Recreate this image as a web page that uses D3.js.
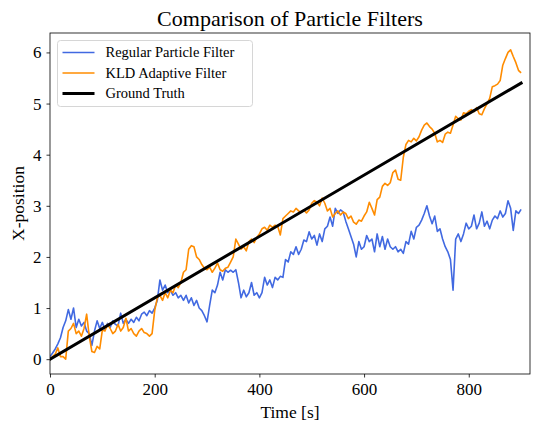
<!DOCTYPE html>
<html>
<head>
<meta charset="utf-8">
<script src="https://cdn.jsdelivr.net/npm/d3@7"></script>
<style>
  body { margin: 0; background: #fff; }
  text { font-family: "Liberation Serif", "DejaVu Serif", serif; fill: #000; }
</style>
</head>
<body>
<svg id="svg"></svg>
<script>
// time axis in seconds, one sample every 5 s
const timeStep = 5;
const xTicks = [0, 200, 400, 600, 800];
const yTicks = [0, 1, 2, 3, 4, 5, 6];
const seriesNames = ["Regular Particle Filter", "KLD Adaptive Filter", "Ground Truth"];

// Regular particle filter estimate
const regularValues = [
  0.05, 0.12, 0.2, 0.3, 0.42, 0.62, 0.75, 0.97, 0.78, 1.0,
  0.62, 0.78, 0.65, 0.72, 0.55, 0.5, 0.27, 0.55, 0.75, 0.6,
  0.72, 0.58, 0.7, 0.62, 0.75, 0.68, 0.65, 0.9, 0.7, 0.78,
  0.7, 0.78, 0.72, 0.82, 0.75, 0.88, 0.92, 0.85, 0.95, 0.9,
  1.0, 1.15, 1.55, 1.35, 1.45, 1.3, 1.35, 1.25, 1.3, 1.2,
  1.25, 1.15, 1.25, 1.1, 1.2, 1.05, 1.15, 1.0, 0.95, 0.85,
  0.73, 1.05, 1.35, 1.3, 1.45, 1.7, 1.55, 1.75, 1.7, 1.74,
  1.7, 1.75, 1.5, 1.2, 1.35, 1.22, 1.3, 1.5, 1.25, 1.3,
  1.2, 1.3, 1.6, 1.45, 1.55, 1.4, 1.6, 1.55, 1.62, 1.6,
  1.95, 1.9, 2.1, 2.05, 2.2, 2.05, 2.15, 2.33, 2.3, 2.49,
  2.35, 2.42, 2.23, 2.45, 2.3, 2.55, 2.6, 2.78, 2.6, 2.95,
  2.85, 2.92, 2.88, 2.7, 2.55, 2.4, 2.25, 2.0, 2.3, 2.15,
  2.2, 2.42, 2.3, 2.35, 2.1, 2.45, 2.2, 2.4, 2.15, 2.35,
  2.2, 2.15, 2.2, 2.1, 2.15, 2.07, 2.3, 2.25, 2.5, 2.35,
  2.58, 2.62, 2.72, 2.85, 3.0, 2.8, 2.65, 2.8, 2.5, 2.55,
  2.35, 2.2, 2.1, 1.95, 1.35, 2.35, 2.45, 2.3, 2.45, 2.66,
  2.55, 2.6, 2.82, 2.55, 2.66, 2.88, 2.6, 2.7, 2.55, 2.72,
  2.8, 2.75, 2.9, 2.78, 2.85, 3.1, 2.95, 2.52, 2.9, 2.85,
  2.93
];

// KLD adaptive filter estimate
const kldValues = [
  0.0, 0.05, 0.1, 0.22, 0.05, 0.05, 0.0, 0.55, 0.6, 0.7,
  0.5, 0.55, 0.45, 0.6, 0.88, 0.45, 0.15, 0.13, 0.25, 0.2,
  0.57, 0.55, 0.68, 0.6, 0.5, 0.55, 0.68, 0.55, 0.62, 0.8,
  0.55, 0.6, 0.5, 0.45, 0.55, 0.6, 0.52, 0.5, 0.45, 0.5,
  0.95, 1.2, 1.25, 1.15, 1.3, 1.2, 1.35, 1.3, 1.45, 1.4,
  1.5, 1.7, 1.75, 2.15, 2.22, 2.2, 2.0, 1.95, 1.85, 1.78,
  1.75, 1.8, 1.7, 1.78, 1.88, 1.75, 1.72, 1.78, 1.8, 1.9,
  2.0, 2.35, 2.25, 2.15, 2.2, 2.12, 2.3, 2.35, 2.28, 2.38,
  2.45, 2.55, 2.58, 2.52, 2.62, 2.58, 2.62, 2.6, 2.43, 2.75,
  2.8, 2.85, 2.9, 2.88, 2.95, 2.9, 2.88, 2.92, 2.86, 2.92,
  3.05, 3.1, 3.07, 3.0, 3.15, 3.05, 2.9, 2.95, 2.78, 2.85,
  2.9, 2.82, 2.88, 2.85, 2.75, 2.8, 2.68, 2.64, 2.72, 2.7,
  2.8, 2.88, 3.07, 2.95, 2.82, 3.12, 3.17, 3.38, 3.44, 3.4,
  3.45, 3.65, 3.7, 3.52, 3.5, 3.95, 4.2, 4.28, 4.25, 4.32,
  4.27, 4.35, 4.48, 4.58, 4.62, 4.55, 4.5, 4.42, 4.25, 4.28,
  4.24, 4.4, 4.44, 4.42, 4.58, 4.75, 4.7, 4.68, 4.82, 4.8,
  4.85, 4.88, 4.84, 4.92, 4.8, 4.78, 4.9, 5.0, 5.1, 5.33,
  5.35, 5.38, 5.45, 5.75, 5.88, 6.0, 6.05, 5.92, 5.8, 5.65,
  5.6
];

// ground truth: straight line from start to end
const truthTimes = [0, 900];
const truthValues = [0, 5.4];

const width = 539;
const height = 426;
const margin = { top: 33, right: 9, bottom: 52, left: 50 };

let svg = d3.select("#svg").attr("width", width).attr("height", height);

function drawChart() {
    const chartWidth = width - margin.left - margin.right;
    const chartHeight = height - margin.top - margin.bottom;

    const xScale = d3.scaleLinear().domain([0, 917]).range([0, chartWidth]);
    const yScale = d3.scaleLinear().domain([-0.29, 6.38]).range([chartHeight, 0]);

    const chart = svg.append("g")
        .attr("transform", `translate(${margin.left},${margin.top})`);

    chart.append("defs").append("clipPath").attr("id", "plot-clip")
        .append("rect").attr("width", chartWidth).attr("height", chartHeight);

    const lineGen = d3.line()
        .x(d => xScale(d[0]))
        .y(d => yScale(d[1]));

    const regular = regularValues.map((v, i) => [i * timeStep, v]);
    const kld = kldValues.map((v, i) => [i * timeStep, v]);
    const truth = truthTimes.map((t, i) => [t, truthValues[i]]);

    const plot = chart.append("g").attr("clip-path", "url(#plot-clip)");

    plot.append("path").datum(regular)
        .attr("d", lineGen)
        .attr("fill", "none")
        .attr("stroke", "royalblue")
        .attr("stroke-width", 1.6)
        .attr("stroke-linejoin", "round");

    plot.append("path").datum(kld)
        .attr("d", lineGen)
        .attr("fill", "none")
        .attr("stroke", "darkorange")
        .attr("stroke-width", 1.6)
        .attr("stroke-linejoin", "round");

    plot.append("path").datum(truth)
        .attr("d", lineGen)
        .attr("fill", "none")
        .attr("stroke", "black")
        .attr("stroke-width", 3)
        .attr("stroke-linecap", "square");

    // Axes
    const xAxis = chart.append("g")
        .attr("transform", `translate(0,${chartHeight})`)
        .call(d3.axisBottom(xScale).tickValues(xTicks).tickSize(3.5).tickPadding(5).tickFormat(d3.format("d")));
    const yAxis = chart.append("g")
        .call(d3.axisLeft(yScale).tickValues(yTicks).tickSize(3.5).tickPadding(5).tickFormat(d3.format("d")));

    [xAxis, yAxis].forEach(ax => {
        ax.select(".domain").remove();
        ax.selectAll(".tick line").attr("stroke", "#000").attr("stroke-width", 0.8);
        ax.selectAll(".tick text")
            .style("font-family", "'Liberation Serif', serif")
            .style("font-size", "17px")
            .attr("fill", "#000");
    });

    // frame
    chart.append("rect")
        .attr("width", chartWidth).attr("height", chartHeight)
        .attr("fill", "none").attr("stroke", "#000").attr("stroke-width", 0.8);

    // Title and labels
    svg.append("text")
        .attr("x", margin.left + chartWidth / 2)
        .attr("y", 26)
        .attr("text-anchor", "middle")
        .style("font-size", "22px")
        .text("Comparison of Particle Filters");

    svg.append("text")
        .attr("x", margin.left + chartWidth / 2)
        .attr("y", 418)
        .attr("text-anchor", "middle")
        .style("font-size", "17.5px")
        .text("Time [s]");

    svg.append("text")
        .attr("transform", `translate(24,${margin.top + chartHeight / 2}) rotate(-90)`)
        .attr("text-anchor", "middle")
        .style("font-size", "17.5px")
        .text("X-position");

    // Legend
    const legend = svg.append("g").attr("transform", "translate(57.5,40.5)");
    legend.append("rect")
        .attr("width", 195).attr("height", 66)
        .attr("rx", 3)
        .attr("fill", "#fff").attr("fill-opacity", 0.8)
        .attr("stroke", "#d6d6d6").attr("stroke-width", 1);

    const legendColors = ["royalblue", "darkorange", "black"];
    const legendWidths = [1.6, 1.6, 3];
    seriesNames.forEach((name, i) => {
        const y = 12 + i * 20.5;
        legend.append("line")
            .attr("x1", 5).attr("x2", 37)
            .attr("y1", y).attr("y2", y)
            .attr("stroke", legendColors[i])
            .attr("stroke-width", legendWidths[i]);
        legend.append("text")
            .attr("x", 48).attr("y", y + 4.5)
            .style("font-size", "14.5px")
            .text(name);
    });
}

drawChart();
</script>
</body>
</html>
